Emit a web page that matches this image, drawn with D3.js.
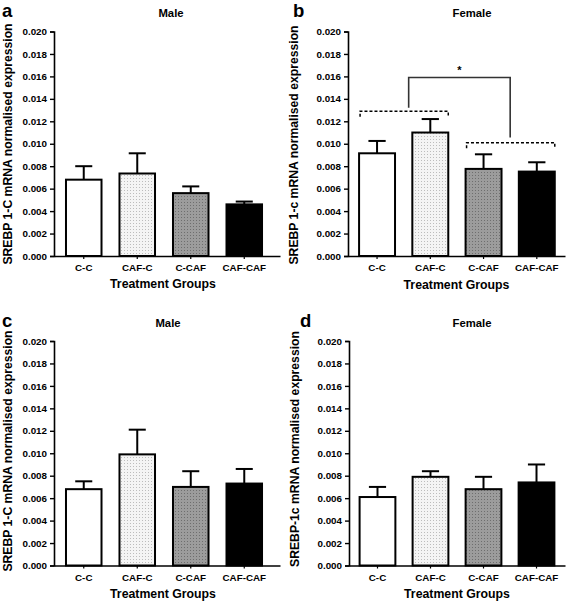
<!DOCTYPE html>
<html><head><meta charset="utf-8">
<script src="https://cdn.jsdelivr.net/npm/d3@7"></script>
<style>
html,body{margin:0;padding:0;background:#fff;}
svg{display:block;font-family:Arial,"Liberation Sans",sans-serif;font-weight:bold;}
</style></head>
<body>
<svg id="chart" width="567" height="601"></svg>
<script>
// ---- data ----
const categories = ["C-C", "CAF-C", "C-CAF", "CAF-CAF"];
const yTicks = [0, 0.002, 0.004, 0.006, 0.008, 0.010, 0.012, 0.014, 0.016, 0.018, 0.020];
const panelLetters = ["a", "b", "c", "d"];
const panelTitles = ["Male", "Female", "Male", "Female"];
const yTitles = ["SREBP 1-C mRNA normalised expression", "SREBP 1-c mRNA normalised expression",
                 "SREBP 1-C mRNA normalised expression", "SREBP-1c mRNA normalised expression"];
const xTitle = "Treatment Groups";
const meanA = [0.0068, 0.00735, 0.0056, 0.0046];
const semA  = [0.0012, 0.0018, 0.0006, 0.00025];
const meanB = [0.00915, 0.0110, 0.00776, 0.00752];
const semB  = [0.0011, 0.0012, 0.0013, 0.00083];
const meanC = [0.0068, 0.0099, 0.0070, 0.0073];
const semC  = [0.0007, 0.0022, 0.0014, 0.0013];
const meanD = [0.0061, 0.0079, 0.0068, 0.0074];
const semD  = [0.0009, 0.0005, 0.0011, 0.0016];
// significance annotation (panel b): groups compared and bracket levels
const sigGroup1 = ["C-C", "CAF-C"];
const sigGroup2 = ["C-CAF", "CAF-CAF"];
const sigLevelGroup1 = 0.0129;
const sigLevelGroup2 = 0.0101;
const sigLevelTop = 0.0159;
const sigLabel = "*";

// ---- layout ----
const svg = d3.select("#chart");
const defs = svg.append("defs");
function dotPattern(id, bg, dot) {
  const p = defs.append("pattern").attr("id", id).attr("patternUnits", "userSpaceOnUse")
    .attr("width", 3).attr("height", 3);
  p.append("rect").attr("width", 3).attr("height", 3).attr("fill", bg);
  p.append("rect").attr("x", 1).attr("y", 1).attr("width", 1).attr("height", 1).attr("fill", dot);
}
dotPattern("patLight", "#f4f4f4", "#bcbcbc");
dotPattern("patGray", "#9c9c9c", "#6e6e6e");
const fills = ["#ffffff", "url(#patLight)", "url(#patGray)", "#000000"];

const panels = [
  {mean: meanA, sem: semA, ax: 54, ae: 280, y0: 256, y1: 31.5, inner: 0.336, outer: 0.28, align: 0.4,
   letter: [2, 17], title: [171, 17], yt: [12, 144], xl: 271, xt: 288},
  {mean: meanB, sem: semB, ax: 348, ae: 565, y0: 256, y1: 31.5, inner: 0.325, outer: 0.2, align: 0.52,
   letter: [293, 17], title: [472, 17], yt: [298, 145], xl: 271, xt: 289},
  {mean: meanC, sem: semC, ax: 54, ae: 280, y0: 565.5, y1: 341, inner: 0.336, outer: 0.28, align: 0.4,
   letter: [2, 327], title: [168, 327], yt: [12, 451], xl: 581, xt: 598},
  {mean: meanD, sem: semD, ax: 349, ae: 565, y0: 565.5, y1: 341, inner: 0.325, outer: 0.2, align: 0.5,
   letter: [300, 327], title: [472, 327], yt: [299, 449], xl: 581, xt: 598}
];

panels.forEach((p, i) => {
  const g = svg.append("g");
  const x = d3.scaleBand().domain(categories).range([p.ax, p.ae])
    .paddingInner(p.inner).paddingOuter(p.outer).align(p.align);
  const y = d3.scaleLinear().domain([0, 0.020]).range([p.y0, p.y1]);

  // bars
  g.selectAll("rect.bar").data(categories).enter().append("rect")
    .attr("x", d => x(d)).attr("width", x.bandwidth())
    .attr("y", (d, j) => y(p.mean[j])).attr("height", (d, j) => y(0) - y(p.mean[j]))
    .attr("fill", (d, j) => fills[j]).attr("stroke", "#000").attr("stroke-width", 2);

  // error bars (upper only)
  categories.forEach((c, j) => {
    const cx = x(c) + x.bandwidth() / 2;
    const cw = x.bandwidth() * 0.24;
    g.append("line").attr("x1", cx).attr("x2", cx)
      .attr("y1", y(p.mean[j])).attr("y2", y(p.mean[j] + p.sem[j]))
      .attr("stroke", "#000").attr("stroke-width", 2);
    g.append("line").attr("x1", cx - cw).attr("x2", cx + cw)
      .attr("y1", y(p.mean[j] + p.sem[j])).attr("y2", y(p.mean[j] + p.sem[j]))
      .attr("stroke", "#000").attr("stroke-width", 2);
  });

  // y axis
  const yAxis = d3.axisLeft(y).tickValues(yTicks).tickFormat(d3.format(".3f")).tickSizeOuter(0).tickSize(4).tickPadding(3);
  const ya = g.append("g").attr("transform", `translate(${p.ax},0)`).call(yAxis);
  ya.select(".domain").attr("stroke-width", 1.6);
  ya.selectAll(".tick line").attr("stroke-width", 1.4);
  ya.selectAll("text").attr("font-size", 9.8).attr("font-weight", "bold").attr("font-family", "Arial, 'Liberation Sans', sans-serif").attr("fill", "#000");

  // x axis
  const xAxis = d3.axisBottom(x).tickSize(3).tickSizeOuter(0).tickPadding(3);
  const xa = g.append("g").attr("transform", `translate(0,${p.y0})`).call(xAxis);
  xa.select(".domain").attr("stroke-width", 1.6);
  xa.selectAll(".tick line").attr("stroke-width", 1.2);
  xa.selectAll("text").attr("font-size", 9.8).attr("font-weight", "bold").attr("font-family", "Arial, 'Liberation Sans', sans-serif").attr("fill", "#000")
    .attr("dy", null).attr("y", p.xl - p.y0);

  // titles
  g.append("text").attr("x", p.letter[0]).attr("y", p.letter[1]).attr("font-size", 18.5).text(panelLetters[i]);
  g.append("text").attr("x", p.title[0]).attr("y", p.title[1]).attr("text-anchor", "middle")
    .attr("font-size", 11.3).text(panelTitles[i]);
  g.append("text").attr("transform", `translate(${p.yt[0]},${p.yt[1]}) rotate(-90)`)
    .attr("text-anchor", "middle").attr("font-size", 12.2).text(yTitles[i]);
  g.append("text").attr("x", (p.ax + p.ae) / 2 - (i % 2 ? 0 : 4)).attr("y", p.xt).attr("text-anchor", "middle")
    .attr("font-size", 12.3).text(xTitle);

  // significance (panel b)
  if (i === 1) {
    const left = k => x(k);
    const right = k => x(k) + x.bandwidth();
    const drop = 0.0005;
    function dashed(grp, lvl) {
      const x1 = left(grp[0]) + 1, x2 = right(grp[grp.length - 1]);
      g.append("path")
        .attr("d", `M${x1},${y(lvl - drop)}V${y(lvl)}H${x2}V${y(lvl - drop)}`)
        .attr("fill", "none").attr("stroke", "#000").attr("stroke-width", 1.5).attr("stroke-dasharray", "3,2");
    }
    dashed(sigGroup1, sigLevelGroup1);
    dashed(sigGroup2, sigLevelGroup2);
    const lx = (right(sigGroup1[0]) + left(sigGroup1[1])) / 2 + 5;
    const rx = (right(sigGroup2[0]) + left(sigGroup2[1])) / 2;
    g.append("path")
      .attr("d", `M${lx},${y(sigLevelGroup1 + 0.0003)}V${y(sigLevelTop)}H${rx}V${y(sigLevelGroup2 + 0.00045)}`)
      .attr("fill", "none").attr("stroke", "#333").attr("stroke-width", 1.6);
    g.append("text").attr("x", (lx + rx) / 2).attr("y", y(sigLevelTop) - 4).attr("text-anchor", "middle")
      .attr("font-size", 11).text(sigLabel);
  }
});
</script>
</body></html>
